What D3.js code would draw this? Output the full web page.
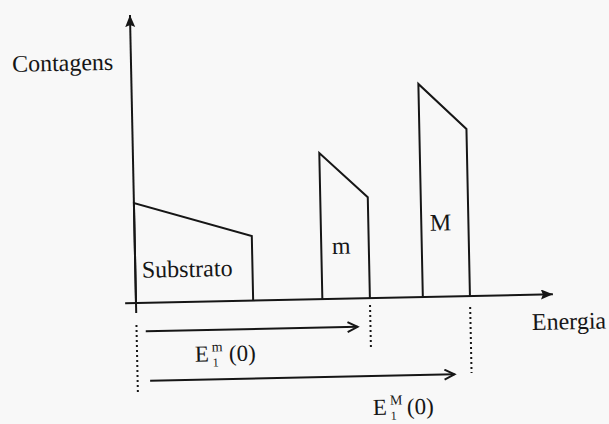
<!DOCTYPE html>
<html>
<head>
<meta charset="utf-8">
<script src="https://cdn.jsdelivr.net/npm/d3@7"></script>
<style>
  body { margin: 0; background: #f8f8f8; }
  svg text { font-family: "Liberation Serif", "Times New Roman", serif; fill: #161616; }
</style>
</head>
<body>
<svg id="chart" width="609" height="424"></svg>
<script>
// Peaks of the spectrum (arbitrary units, axis tip = 100)
const peaks = ["Substrato", "m", "M"];
const energyStart = [0, 44.7, 68.8];
const energyEnd = [28.1, 56.1, 80.1];
const countsStart = [34.7, 50.7, 74];
const countsEnd = [22.4, 35, 58];

// Edge energies E1(0) of the two elements
const edgeNames = ["m", "M"];
const edgeEnergy = [56.1, 80.1];
const arrowFrom = [2.2, 3];
const arrowTo = [53, 76];

const svg = d3.select("#chart");
const ink = "#161616";

const x = d3.scaleLinear().domain([0, 100]).range([0, 417]);
const y = d3.scaleLinear().domain([0, 100]).range([0, -288]);

// defs: arrow heads
const defs = svg.append("defs");
defs.append("marker")
  .attr("id", "tip")
  .attr("markerUnits", "userSpaceOnUse")
  .attr("markerWidth", 14).attr("markerHeight", 12)
  .attr("refX", 12).attr("refY", 5)
  .attr("orient", "auto")
  .append("path")
  .attr("d", "M0,0 L12,5 L0,10 L2,5 Z")
  .attr("fill", ink);

defs.append("marker")
  .attr("id", "open")
  .attr("markerUnits", "userSpaceOnUse")
  .attr("markerWidth", 14).attr("markerHeight", 14)
  .attr("refX", 11).attr("refY", 6)
  .attr("orient", "auto")
  .append("path")
  .attr("d", "M1,1 L11,6 L1,11")
  .attr("fill", "none")
  .attr("stroke", ink)
  .attr("stroke-width", 2);

// the scan is slightly tilted
const g = svg.append("g")
  .attr("transform", "translate(136,303) rotate(-1.2)");

// Axes
g.append("line")
  .attr("x1", x(-2.6)).attr("x2", x(100))
  .attr("y1", 0).attr("y2", 0)
  .attr("stroke", ink).attr("stroke-width", 2)
  .attr("marker-end", "url(#tip)");

g.append("line")
  .attr("x1", 0).attr("x2", 0)
  .attr("y1", y(-3.5)).attr("y2", y(100))
  .attr("stroke", ink).attr("stroke-width", 2)
  .attr("marker-end", "url(#tip)");

// Peaks
const outline = d3.line().x(d => x(d[0])).y(d => y(d[1]));
peaks.forEach((p, i) => {
  g.append("path")
    .attr("d", outline([
      [energyStart[i], 0],
      [energyStart[i], countsStart[i]],
      [energyEnd[i], countsEnd[i]],
      [energyEnd[i], 0]
    ]))
    .attr("fill", "none")
    .attr("stroke", ink)
    .attr("stroke-width", 2)
    .attr("stroke-linejoin", "miter");
});

// Peak labels
const labelPos = [[6.5, -25], [197, -45], [295.5, -66]];
peaks.forEach((p, i) => {
  g.append("text")
    .attr("x", labelPos[i][0])
    .attr("y", labelPos[i][1])
    .style("font-size", "24px")
    .text(p);
});

// Dotted guides
const guides = [[0, 22, 92], [edgeEnergy[0], 7, 52], [edgeEnergy[1], 11, 77]];
guides.forEach(d => {
  g.append("line")
    .attr("x1", x(d[0])).attr("x2", x(d[0]))
    .attr("y1", d[1]).attr("y2", d[2])
    .attr("stroke", ink)
    .attr("stroke-width", 2)
    .attr("stroke-dasharray", "2,3");
});

// Energy arrows
const arrowY = [28.5, 78];
edgeNames.forEach((n, i) => {
  g.append("line")
    .attr("x1", x(arrowFrom[i])).attr("x2", x(arrowTo[i]))
    .attr("y1", arrowY[i]).attr("y2", arrowY[i])
    .attr("stroke", ink).attr("stroke-width", 2)
    .attr("marker-end", "url(#open)");
});

// E_1^m(0) labels
const labelAt = [[57.8, 60], [234.7, 117]];
edgeNames.forEach((n, i) => {
  const lg = g.append("g")
    .attr("transform", `translate(${labelAt[i][0]},${labelAt[i][1]})`);
  lg.append("text").attr("x", 0).attr("y", 0)
    .style("font-size", "23px").text("E");
  lg.append("text").attr("x", 17).attr("y", -10)
    .style("font-size", "14px").text(n);
  lg.append("text").attr("x", 17.5).attr("y", 5)
    .style("font-size", "12px").text("1");
  lg.append("text").attr("x", 34).attr("y", 0)
    .style("font-size", "23px").text("(0)");
});

// Axis titles
g.append("text")
  .attr("x", -119).attr("y", -233.6)
  .style("font-size", "24px")
  .text("Contagens");

g.append("text")
  .attr("x", 395.4).attr("y", 35.3)
  .style("font-size", "24px")
  .text("Energia");
</script>
</body>
</html>
